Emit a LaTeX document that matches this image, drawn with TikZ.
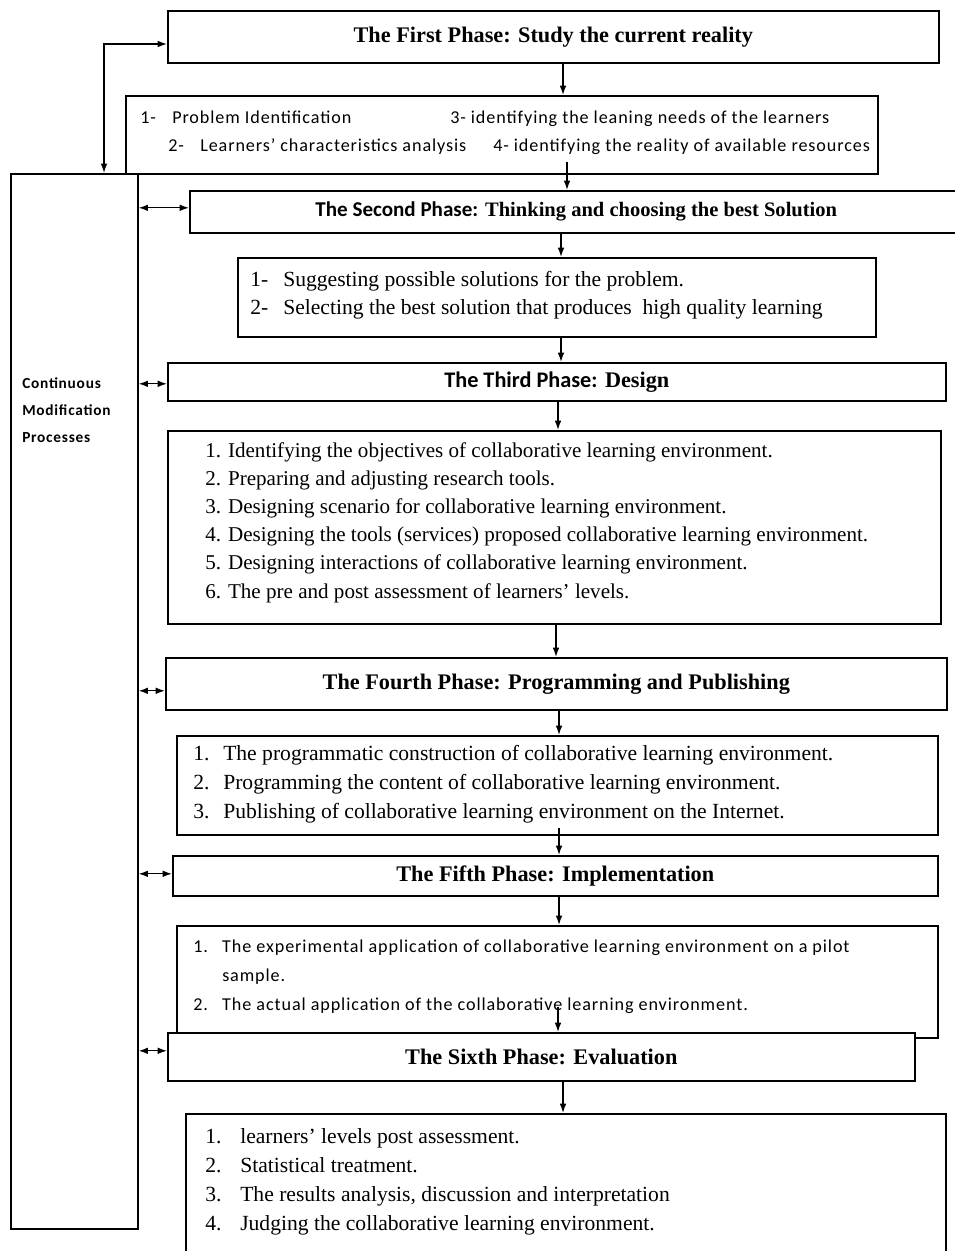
\documentclass[tikz,border=0pt]{standalone}
\usepackage{fontspec}
\setmainfont{Liberation Serif}
\newfontfamily\calibri{Carlito}
\newfontfamily\calibrisp[LetterSpace=5]{Carlito}
\usetikzlibrary{arrows.meta}
\newdimen\px \px=0.75pt
\newcommand\numbox[2]{\makebox[#1\px][l]{#2}}
\begin{document}
\begin{tikzpicture}[x=0.75pt, y=-0.75pt,
        phase/.style={draw, line width=1.2pt, fill=white, anchor=north west, inner sep=0pt, font=\bfseries\fontsize{16.7}{19}\selectfont},
        itembox/.style={draw, line width=1.2pt, anchor=north west, inner sep=0pt},
        serifitems/.style={anchor=base west, inner sep=0pt, align=left, font=\fontsize{16.2}{21.4}\selectfont},
        sansitems/.style={anchor=base west, inner sep=0pt, align=left, font=\calibrisp\fontsize{13.6}{21.4}\selectfont},
        link/.style={line width=1pt, >={Latex[length=7pt,width=5pt]}}
    ]
        \useasboundingbox (0,0) rectangle (955,1251);

        % Item boxes (drawn first, the phase boxes cover them)
        \node[itembox, minimum width=752\px, minimum height=78\px] (i1) at (125,95) {};
        \node[itembox, minimum width=638\px, minimum height=79\px] (i2) at (237,257) {};
        \node[itembox, minimum width=773\px, minimum height=193\px] (i3) at (167,430) {};
        \node[itembox, minimum width=761\px, minimum height=99\px] (i4) at (176,735) {};
        \node[itembox, minimum width=761\px, minimum height=112\px] (i5) at (176,925) {};
        \node[itembox, minimum width=760\px, minimum height=160\px] (i6) at (185,1113) {};
        \node[itembox, minimum width=127\px, minimum height=1055\px] (side) at (10,173) {};

        % Phases
        \node[phase, minimum width=771\px, minimum height=52\px] (p1) at (167,10) {The First Phase: Study the current reality};
        \node[phase, minimum width=773\px, minimum height=42\px, font=\bfseries\fontsize{15.4}{19}\selectfont] (p2) at (189,190) {{\calibri\fontsize{15.8}{19}\selectfont The Second Phase:} Thinking and choosing the best Solution};
        \node[phase, minimum width=778\px, minimum height=38\px] (p3) at (167,362) {{\calibri The Third Phase:} Design};
        \node[phase, minimum width=781\px, minimum height=52\px] (p4) at (165,657) {The Fourth Phase: Programming and Publishing};
        \node[phase, minimum width=765\px, minimum height=40\px] (p5) at (172,855) {The Fifth Phase: Implementation};
        \node[phase, minimum width=747\px, minimum height=48\px] (p6) at (167,1032) {The Sixth Phase: Evaluation};

        % Lists (anchored on the baseline of their last line)
        \node[sansitems] (l1a) at (140,152) {\numbox{32}{1-}Problem Identification\\\hspace*{28\px}\numbox{32}{2-}Learners’ characteristics analysis};
        \node[sansitems] (l1b) at (450,152) {3- identifying the leaning needs of the learners\\\hspace*{43\px}4- identifying the reality of available resources};
        \node[serifitems] (l2) at (250,315) {\numbox{33}{1-}Suggesting possible solutions for the problem.\\\numbox{33}{2-}Selecting the best solution that produces\ \ high quality learning};
        \node[serifitems, font=\fontsize{15.8}{21.15}\selectfont] (l3) at (205,598) {1. Identifying the objectives of collaborative learning environment.\\2. Preparing and adjusting research tools.\\3. Designing scenario for collaborative learning environment.\\4. Designing the tools (services) proposed collaborative learning environment.\\5. Designing interactions of collaborative learning environment.\\6. The pre and post assessment of learners’ levels.};
        \node[serifitems] (l4) at (193,818) {\numbox{30}{1.}The programmatic construction of collaborative learning environment.\\\numbox{30}{2.}Programming the content of collaborative learning environment.\\\numbox{30}{3.}Publishing of collaborative learning environment on the Internet.};
        \node[sansitems] (l5) at (193,1010) {\numbox{29}{1.}The experimental application of collaborative learning environment on a pilot\\\numbox{29}{}sample.\\\numbox{29}{2.}The actual application of the collaborative learning environment.};
        \node[serifitems, font=\fontsize{16.2}{21.75}\selectfont] (l6) at (205,1230) {\numbox{35}{1.}learners’ levels post assessment.\\\numbox{35}{2.}Statistical treatment.\\\numbox{35}{3.}The results analysis, discussion and interpretation\\\numbox{35}{4.}Judging the collaborative learning environment.};
        \node[anchor=base west, inner sep=0pt, align=left, font=\calibrisp\bfseries\fontsize{11.5}{20.25}\selectfont] (lbl) at (22,442) {Continuous\\Modification\\Processes};

        % Flow down the phases
        \foreach \a/\b/\x/\s in {p1/i1/563/0, i1/p2/567/13, p2/i2/561/0, i2/p3/561/0, p3/i3/558/0, i3/p4/556/0, p4/i4/559/0, i4/p5/559/8, p5/i5/559/0, i5/p6/558/32, p6/i6/563/0}
            \draw[link, ->] (\x,0 |- \a.south) ++(0,-\s) -- (\x,0 |- \b.north);

        % Modification links
        \foreach \p/\d in {p2/-4, p3/2, p4/7, p5/-2, p6/-6} {
            \path (\p.west) ++(0,\d) coordinate (m\p);
            \draw[link, <->] (side.east |- m\p) -- (m\p);
        }
        \draw[link, <->] (104,0 |- side.north) -- (104,44) -- (p1.west |- 0,44);
    \end{tikzpicture}
\end{document}
